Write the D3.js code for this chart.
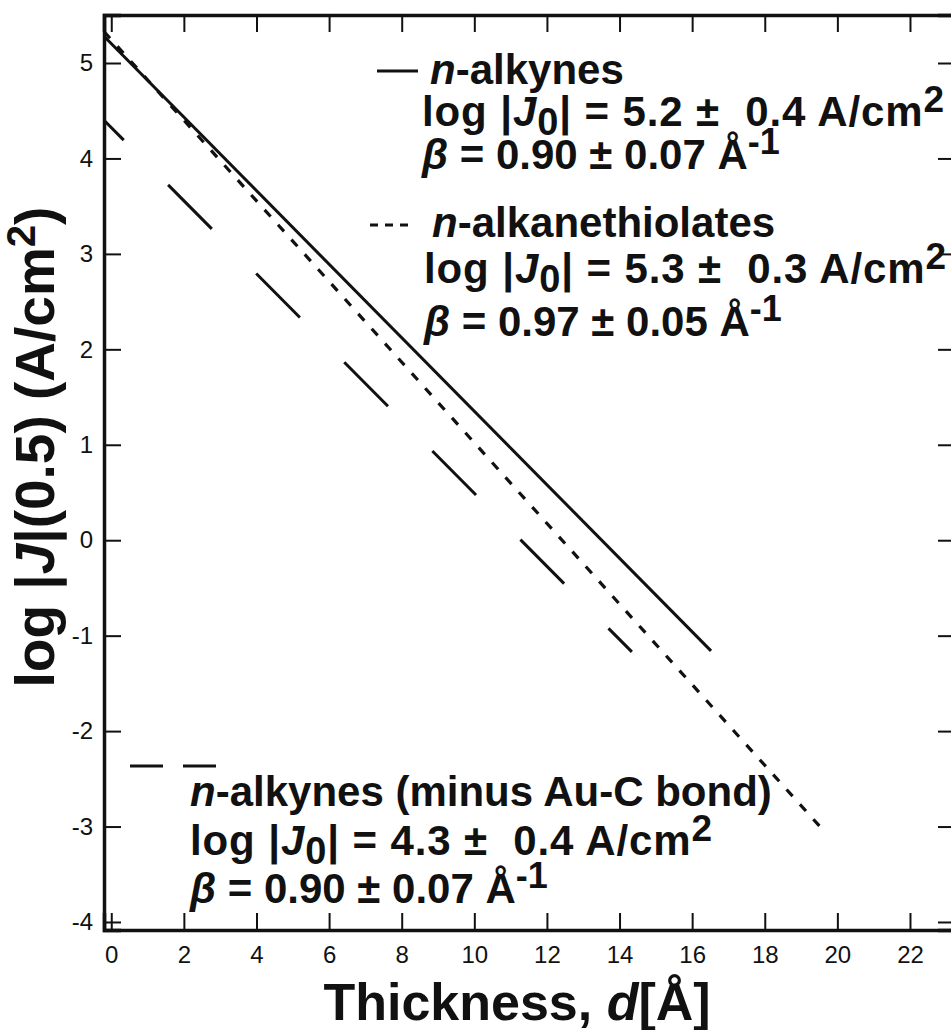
<!DOCTYPE html>
<html><head><meta charset="utf-8">
<script src="https://cdn.jsdelivr.net/npm/d3@7"></script>
<style>
html,body{margin:0;padding:0;background:#fff;}
svg{display:block;}
text{font-family:"Liberation Sans",Arial,sans-serif;fill:#111;white-space:pre;}
</style></head>
<body>
<svg id="chart" width="951" height="1030"></svg>
<script>
// ---- data ----
const xTicks = [0,2,4,6,8,10,12,14,16,18,20,22];
const yTicks = [-4,-3,-2,-1,0,1,2,3,4,5];
const alkynes = [[-0.2, 5.28],[16.52, -1.16]];          // solid
const thiolates = [[-0.2, 5.33],[19.52, -3.00]];        // short dashed
const alkynesMinus = [[-0.2, 4.40],[14.34, -1.17]];     // long dashed
const xDomain = [-0.2, 23.24];
const yDomain = [-4.084, 5.503];

const svg = d3.select("#chart");
const W = 951, H = 1030;
const L = 104, R = 955, T = 15, B = 930;
const x = d3.scaleLinear().domain(xDomain).range([L, R]);
const y = d3.scaleLinear().domain(yDomain).range([B, T]);

svg.append("rect").attr("width",W).attr("height",H).attr("fill","#fff");

const line = d3.line().x(d=>x(d[0])).y(d=>y(d[1]));
const g = svg.append("g");
g.append("path").datum(alkynes).attr("d",line).attr("fill","none").attr("stroke","#111").attr("stroke-width",3);
g.append("path").datum(thiolates).attr("d",line).attr("fill","none").attr("stroke","#111").attr("stroke-width",3.2)
  .attr("stroke-dasharray","9,11");
g.append("path").datum(alkynesMinus).attr("d",line).attr("fill","none").attr("stroke","#111").attr("stroke-width",3)
  .attr("stroke-dasharray","62,63").attr("stroke-dashoffset",34);

// axes (ticks inward)
const tl = 17;
const axB = d3.axisBottom(x).tickValues(xTicks).tickSize(-tl).tickPadding(16).tickFormat(d3.format("d"));
const axT = d3.axisTop(x).tickValues(xTicks).tickSize(-tl).tickFormat("");
const axL = d3.axisLeft(y).tickValues(yTicks).tickSize(-tl).tickPadding(12).tickFormat(d3.format("d"));
const axR = d3.axisRight(y).tickValues(yTicks).tickSize(-tl).tickFormat("");
function style(sel){
  sel.attr("font-size",24).attr("font-family",'"Liberation Sans",Arial,sans-serif');
  sel.select(".domain").attr("stroke","#111").attr("stroke-width",3.5);
  sel.selectAll(".tick line").attr("stroke","#111").attr("stroke-width",2);
  sel.selectAll(".tick text").attr("fill","#111").attr("font-size",24).style("font-size","24px");
}
svg.append("g").attr("transform",`translate(0,${B})`).call(axB).call(style);
svg.append("g").attr("transform",`translate(0,${T})`).call(axT).call(style);
const gl = svg.append("g").attr("transform",`translate(${L},0)`).call(axL).call(style);
gl.selectAll(".tick text").attr("x", -11);
svg.append("g").attr("transform",`translate(${R},0)`).call(axR).call(style);
svg.selectAll(".tick text").each(function(){ this.textContent = this.textContent.replace("\u2212","-"); });

// axis titles
const xt = svg.append("text").attr("x", 517).attr("y", 1020).attr("text-anchor","middle")
  .style("font-size","52px").style("font-weight","bold");
xt.append("tspan").text("Thickness, ");
xt.append("tspan").style("font-style","italic").text("d");
xt.append("tspan").text("[Å]");

const yt = svg.append("text").attr("transform","translate(54,447) rotate(-90)").attr("text-anchor","middle")
  .style("font-size","55px").style("font-weight","bold");
yt.append("tspan").text("log |");
yt.append("tspan").style("font-style","italic").text("J");
yt.append("tspan").text("|(0.5) (A/cm");
yt.append("tspan").attr("dy",-19).style("font-size","40px").text("2");
yt.append("tspan").attr("dy",19).text(")");

// legend text helpers
const FS = 42;
function titleLine(xp, yp, name){
  const t = svg.append("text").attr("x",xp).attr("y",yp).style("font-size",FS+"px").style("font-weight","bold");
  t.append("tspan").style("font-style","italic").text("n");
  t.append("tspan").text(name);
}
function j0Line(xp, yp, val, err){
  const t = svg.append("text").attr("x",xp).attr("y",yp).style("font-size",FS+"px").style("font-weight","bold")
    .style("letter-spacing","0.9px");
  t.append("tspan").text("log |");
  t.append("tspan").style("font-style","italic").text("J");
  t.append("tspan").attr("dy",9).style("font-size","38px").text("0");
  t.append("tspan").attr("dy",-9).text(`| = ${val} \u00b1  ${err} A/cm`);
  t.append("tspan").attr("dy",-14).style("font-size","37px").text("2");
}
function betaLine(xp, yp, val, err){
  const t = svg.append("text").attr("x",xp).attr("y",yp).style("font-size",FS+"px").style("font-weight","bold");
  t.append("tspan").style("font-style","italic").text("\u03b2");
  t.append("tspan").text(` = ${val} \u00b1 ${err} Å`);
  t.append("tspan").attr("dy",-15).style("font-size","36px").text("-1");
}

// legend 1
svg.append("line").attr("x1",377).attr("x2",418).attr("y1",71).attr("y2",71).attr("stroke","#111").attr("stroke-width",3);
titleLine(430, 84, "-alkynes");
j0Line(422, 126, "5.2", "0.4");
betaLine(422, 169, "0.90", "0.07");
// legend 2
svg.append("line").attr("x1",370).attr("x2",412).attr("y1",225).attr("y2",225).attr("stroke","#111").attr("stroke-width",3)
  .attr("stroke-dasharray","8,7");
titleLine(432, 237, "-alkanethiolates");
j0Line(424, 283, "5.3", "0.3");
betaLine(424, 336, "0.97", "0.05");
// legend 3
svg.append("line").attr("x1",130).attr("x2",218).attr("y1",766).attr("y2",766).attr("stroke","#111").attr("stroke-width",3)
  .attr("stroke-dasharray","33,20");
titleLine(190, 806, "-alkynes (minus Au-C bond)");
j0Line(190, 855, "4.3", "0.4");
betaLine(190, 903, "0.90", "0.07");
</script>
</body></html>
